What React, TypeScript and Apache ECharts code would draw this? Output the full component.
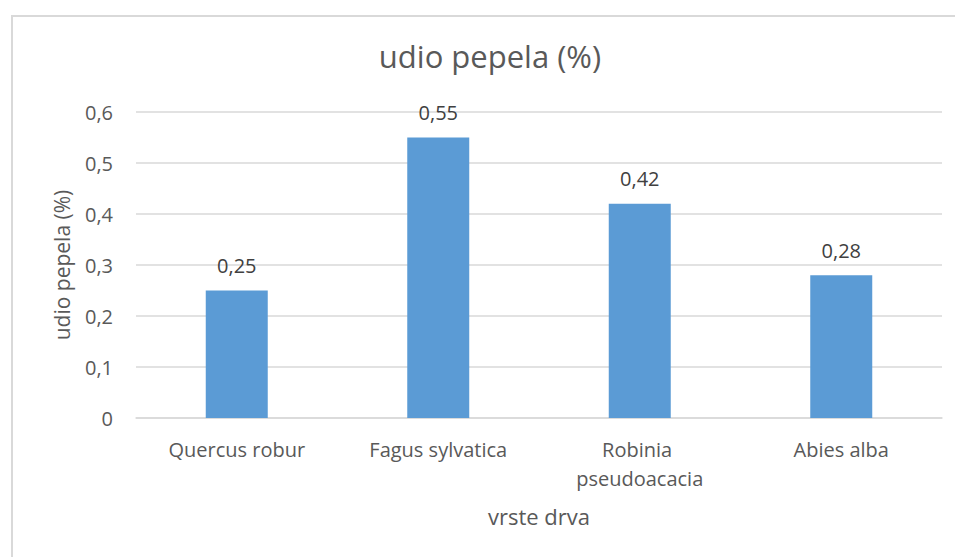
import React, { useEffect, useRef } from "react";
import * as echarts from "echarts";

const categories = ["Quercus robur", "Fagus sylvatica", "Robinia pseudoacacia", "Abies alba"];
const values = [0.25, 0.55, 0.42, 0.28];
const yTicks = { min: 0, max: 0.6, interval: 0.1 };
const titleText = "udio pepela (%)";
const yName = "udio pepela (%)";
const xName = "vrste drva";

const FONT = "Open Sans";
const TXT = "#595959";
const GRID = "#d9d9d9";

const fmt = (v: number) => String(Math.round(v * 100) / 100).replace(".", ",");

export default function App() {
  const ref = useRef<HTMLDivElement>(null);
  useEffect(() => {
    if (!ref.current) return;
    const chart = echarts.init(ref.current, undefined, { renderer: "svg" });
    chart.setOption({
      animation: false,
      backgroundColor: "#ffffff",
      textStyle: { fontFamily: FONT },
      title: {
        text: titleText,
        left: 490,
        top: 40,
        padding: 0,
        textAlign: "center",
        textStyle: { fontFamily: FONT, fontSize: 31, fontWeight: "normal", color: TXT },
      },
      graphic: [
        {
          type: "rect",
          left: 9.5,
          top: 13.5,
          shape: { x: 0, y: 0, width: 1000, height: 600 },
          style: { fill: "none", stroke: GRID, lineWidth: 2 },
          silent: true,
          z: -1,
        },
      ],
      grid: { left: 136, right: 13, top: 112, bottom: 139, containLabel: false },
      xAxis: {
        type: "category",
        data: categories,
        name: xName,
        nameLocation: "middle",
        nameGap: 87,
        nameTextStyle: { fontFamily: FONT, fontSize: 22, color: TXT },
        axisLine: { lineStyle: { color: GRID, width: 1.5 } },
        axisTick: { show: false },
        axisLabel: {
          fontFamily: FONT,
          fontSize: 20,
          color: TXT,
          margin: 17,
          lineHeight: 29,
          width: 180,
          overflow: "break",
          interval: 0,
        },
      },
      yAxis: {
        type: "value",
        min: yTicks.min,
        max: yTicks.max,
        interval: yTicks.interval,
        name: yName,
        nameLocation: "middle",
        nameGap: 64,
        nameTextStyle: { fontFamily: FONT, fontSize: 21, color: TXT },
        axisLine: { show: false },
        axisTick: { show: false },
        splitLine: { lineStyle: { color: GRID, width: 1.5 } },
        axisLabel: {
          fontFamily: FONT,
          fontSize: 20,
          color: TXT,
          margin: 23,
          formatter: (v: number) => fmt(v),
        },
      },
      series: [
        {
          type: "bar",
          data: values,
          barWidth: 62,
          itemStyle: { color: "#5b9bd5" },
          label: {
            show: true,
            position: "top",
            distance: 15,
            fontFamily: FONT,
            fontSize: 20,
            color: "#404040",
            formatter: (p: any) => fmt(p.value),
          },
        },
      ],
    });
    return () => chart.dispose();
  }, []);
  return (
    <div
      ref={ref}
      style={{ position: "absolute", left: 0, top: 0, width: 955, height: 557 }}
    />
  );
}
